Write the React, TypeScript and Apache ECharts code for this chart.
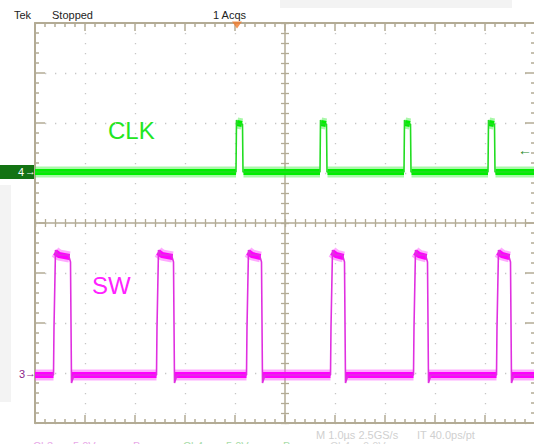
import React, { useEffect, useRef } from 'react';
import * as echarts from 'echarts';

// ---- data (time in µs, 1 µs/div, screen centre = 0) ----
const clkRise = [-0.98, 0.70, 2.38, 4.06];
const clkFall = [-0.84, 0.84, 2.52, 4.20];
const swRise = [-4.62, -2.56, -0.76, 0.92, 2.58, 4.24];
const swFall = [-4.28, -2.22, -0.46, 1.20, 2.86, 4.52];

// levels in volts
const clkLow = 0;
const clkHigh = 4.8;
const clkOvershoot = 5.2;
const swLow = -0.1;
const swHigh = 11.9;
const swOvershoot = 12.4;
const swKnee = 4.7;
const swDroop = 11.2;
const swUndershoot = -0.9;

// channel set-up
const voltsPerDiv = 5;
const ch4Pos = 1.02; // CLK ground, divisions from centre
const ch3Pos = -3.02; // SW ground
const triggerTime = -0.96;

const RULER = '#b3ab95';
const DOT = '#c6c6c6';

const clkDiv = (v: number) => ch4Pos + v / voltsPerDiv;
const swDiv = (v: number) => ch3Pos + v / voltsPerDiv;

function clkEdge() {
  const d: any[] = [[-5, clkDiv(clkLow)]];
  clkRise.forEach((r, i) => {
    const f = clkFall[i];
    d.push([r, clkDiv(clkLow)], [r + 0.01, clkDiv(clkOvershoot)], [r + 0.04, clkDiv(clkHigh)]);
    d.push([f - 0.01, clkDiv(clkHigh)], [f, clkDiv(clkLow)]);
  });
  d.push([5, clkDiv(clkLow)]);
  return d;
}
function clkBand() {
  const d: any[] = [];
  let start = -5;
  clkRise.forEach((r, i) => {
    d.push([start, clkDiv(clkLow)], [r, clkDiv(clkLow)], [r, '-']);
    d.push([r + 0.02, clkDiv(clkHigh + 0.1)], [clkFall[i] - 0.02, clkDiv(clkHigh)], [clkFall[i], '-']);
    start = clkFall[i] + 0.01;
  });
  d.push([start, clkDiv(clkLow)], [5, clkDiv(clkLow)]);
  return d;
}
function swEdge() {
  const d: any[] = [[-5, swDiv(swLow)]];
  swRise.forEach((r, i) => {
    const f = swFall[i];
    d.push([r - 0.01, swDiv(swLow)], [r, swDiv(swKnee)], [r + 0.03, swDiv(swOvershoot)], [r + 0.08, swDiv(swHigh)]);
    d.push([f - 0.05, swDiv(swHigh)], [f - 0.01, swDiv(swDroop)], [f + 0.01, swDiv(swUndershoot)], [f + 0.06, swDiv(swLow)]);
  });
  d.push([5, swDiv(swLow)]);
  return d;
}
function swBand() {
  const d: any[] = [];
  let start = -5;
  swRise.forEach((r, i) => {
    d.push([start, swDiv(swLow)], [r - 0.01, swDiv(swLow)], [r, '-']);
    d.push([r + 0.02, swDiv(swOvershoot - 0.2)], [r + 0.1, swDiv(swHigh)], [swFall[i] - 0.03, swDiv(swHigh - 0.2)], [swFall[i], '-']);
    start = swFall[i] + 0.02;
  });
  d.push([start, swDiv(swLow)], [5, swDiv(swLow)]);
  return d;
}

const frameX = (position: 'top' | 'bottom', split: boolean) => ({
  type: 'value', position, min: -5, max: 5, interval: 1,
  axisLine: { show: true, onZero: false, lineStyle: { color: RULER, width: 2 } },
  axisTick: { show: true, inside: true, length: 8, lineStyle: { color: RULER, width: 1.5 } },
  minorTick: { show: true, splitNumber: 5, length: 4, lineStyle: { color: RULER, width: 1.5 } },
  axisLabel: { show: false },
  splitLine: { show: split, lineStyle: { color: DOT, width: 1.3, type: [1.3, 8.7] } },
});
const frameY = (position: 'left' | 'right', split: boolean) => ({
  type: 'value', position, min: -4, max: 4, interval: 1,
  axisLine: { show: true, onZero: false, lineStyle: { color: RULER, width: 2 } },
  axisTick: { show: true, inside: true, length: 10, lineStyle: { color: RULER, width: 1.5 } },
  minorTick: { show: true, splitNumber: 5, length: 4, lineStyle: { color: RULER, width: 1.5 } },
  axisLabel: { show: false },
  splitLine: { show: split, lineStyle: { color: DOT, width: 1.3, type: [1.3, 8.7] } },
});
const centreX = (inside: boolean, line: boolean) => ({
  type: 'value', position: 'bottom', min: -5, max: 5, interval: 1,
  axisLine: { show: line, onZero: true, onZeroAxisIndex: 0, lineStyle: { color: RULER, width: 1.5 } },
  axisTick: { show: true, inside, length: 4, lineStyle: { color: RULER, width: 1.3 } },
  minorTick: { show: true, splitNumber: 5, length: 4, lineStyle: { color: RULER, width: 1.3 } },
  axisLabel: { show: false }, splitLine: { show: false },
});
const centreY = (inside: boolean, line: boolean) => ({
  type: 'value', position: 'left', min: -4, max: 4, interval: 1,
  axisLine: { show: line, onZero: true, onZeroAxisIndex: 0, lineStyle: { color: RULER, width: 1.5 } },
  axisTick: { show: true, inside, length: 4, lineStyle: { color: RULER, width: 1.3 } },
  minorTick: { show: true, splitNumber: 5, length: 4, lineStyle: { color: RULER, width: 1.3 } },
  axisLabel: { show: false }, splitLine: { show: false },
});

const txt = (text: string, x: number, y: number, fill: string, size = 11, extra: any = {}) => ({
  type: 'text', x, y, silent: true,
  style: { text, fill, font: `${size}px "Liberation Sans", Arial, sans-serif`, verticalAlign: 'top', ...extra },
});

export default function App() {
  const ref = useRef<HTMLDivElement>(null);
  useEffect(() => {
    if (!ref.current) return;
    const chart = echarts.init(ref.current, undefined, { renderer: 'svg' });
    const lineBase = { type: 'line', xAxisIndex: 0, yAxisIndex: 0, symbol: 'none', silent: true, connectNulls: false };
    chart.setOption({
      animation: false,
      backgroundColor: '#ffffff',
      grid: { left: 35, top: 23, width: 500, height: 400, outerBoundsMode: 'none', containLabel: false },
      xAxis: [frameX('top', true), frameX('bottom', false), centreX(true, true), centreX(false, false)],
      yAxis: [frameY('left', true), frameY('right', false), centreY(true, true), centreY(false, false)],
      series: [
        { ...lineBase, name: 'CLK fringe', data: clkBand(), lineStyle: { color: '#40f040', width: 11, opacity: 0.45, cap: 'butt' }, z: 3 },
        { ...lineBase, name: 'CLK band', data: clkBand(), lineStyle: { color: '#00ee00', width: 6, cap: 'butt' }, z: 4 },
        { ...lineBase, name: 'CLK', data: clkEdge(), lineStyle: { color: '#22dd22', width: 1.6 }, z: 5 },
        { ...lineBase, name: 'SW fringe', data: swBand(), lineStyle: { color: '#ff40ff', width: 11, opacity: 0.45, cap: 'butt' }, z: 3 },
        { ...lineBase, name: 'SW band', data: swBand(), lineStyle: { color: '#ff00ff', width: 6, cap: 'butt' }, z: 4 },
        { ...lineBase, name: 'SW', data: swEdge(), lineStyle: { color: '#e030e0', width: 1.6 }, z: 5 },
        {
          type: 'scatter', xAxisIndex: 0, yAxisIndex: 0, silent: true, z: 6,
          data: [[triggerTime, 4]], symbol: 'triangle', symbolRotate: 180, symbolSize: [10, 7], symbolOffset: [0, 2],
          itemStyle: { color: '#f07a2a' },
        },
      ],
      graphic: [
        { type: 'rect', silent: true, shape: { x: 280, y: 0, width: 232, height: 8 }, style: { fill: '#f3f3f3' } },
        { type: 'rect', silent: true, shape: { x: 0, y: 185, width: 11, height: 217 }, style: { fill: '#f3f3f3' } },
        txt('Tek', 14, 9, '#222'),
        txt('Stopped', 52, 9, '#222'),
        txt('1 Acqs', 213, 9, '#222'),
        txt('CLK', 108, 118, '#22e622', 24),
        txt('SW', 92, 273, '#ff22ff', 24),
        { type: 'rect', silent: true, shape: { x: 0, y: 165, width: 34, height: 14 }, style: { fill: '#137313' } },
        txt('4', 18, 166, '#ffffff', 11),
        txt('→', 25, 165, '#ffffff', 11),
        txt('3', 19, 368, '#8b1e8b', 11),
        txt('→', 25, 367, '#8b1e8b', 11),
        txt('←', 518, 143, '#2a8a2a', 14),
        txt('M 1.0µs 2.5GS/s', 316, 429, '#d0d0d0'),
        txt('IT 40.0ps/pt', 417, 429, '#d0d0d0'),
        txt('Ch3', 33, 440, '#e8a8e8'),
        txt('5.0V', 73, 440, '#e8a8e8'),
        txt('Bw', 133, 440, '#e8a8e8'),
        txt('Ch4', 183, 440, '#a8dca8'),
        txt('5.0V', 226, 440, '#a8dca8'),
        txt('Bw', 283, 440, '#a8dca8'),
        txt('Ch4', 330, 440, '#d6d6d6'),
        txt('0.0V', 363, 440, '#d6d6d6'),
      ],
    });
    return () => chart.dispose();
  }, []);
  return (
    <div
      ref={ref}
      style={{ position: 'fixed', left: 0, top: 0, width: 534, height: 444, background: '#ffffff', overflow: 'hidden' }}
    />
  );
}
